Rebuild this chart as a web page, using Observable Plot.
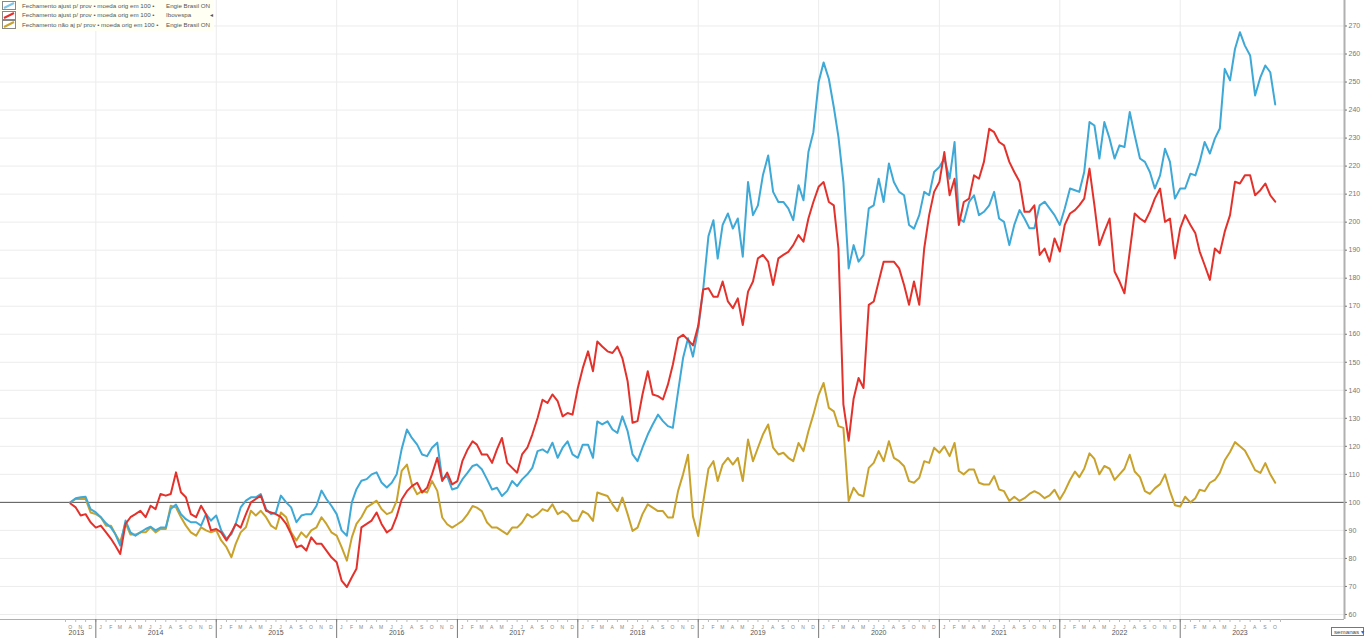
<!DOCTYPE html>
<html><head><meta charset="utf-8">
<script src="https://cdn.jsdelivr.net/npm/d3@7"></script>
<script src="https://cdn.jsdelivr.net/npm/@observablehq/plot@0.6"></script>
<style>
html,body{margin:0;padding:0;background:#fff;overflow:hidden;font-family:"Liberation Sans",Arial,sans-serif;}
#wrap{position:relative;width:1366px;overflow:hidden;}
#chart svg{display:block;}
#legend{position:absolute;left:0;top:0;width:214px;height:30px;background:#fffff4;font-size:6.2px;color:#555;padding-top:1px;}
.row{position:relative;height:9.7px;white-space:nowrap;}
.row svg{position:absolute;left:2px;top:0px;}
.row span{position:absolute;top:0.8px;}
#sem{position:absolute;left:1331px;width:33px;height:9px;border:1px solid #777;background:#fff;font-size:6.2px;color:#444;line-height:8px;padding-left:2px;box-sizing:border-box;white-space:nowrap;}
</style></head>
<body><div id="wrap"><div id="chart"></div>
<div id="legend"></div>
<div id="sem">semanas <span style="color:#2a6fc0">&#9662;</span></div>
</div>
<script>
// Series: Engie Brasil ON (adj.), Ibovespa (adj.), Engie Brasil ON (not adj.), base 100, semi-monthly samples
const blueValues = [
100,101.5,101.8,102,97.6,96.4,94.7,92.5,91,88.7,
84.6,93.5,89.3,88.1,89.3,90.5,91.3,90,91,91,
97.6,99.2,95.8,94,92.9,92.9,91.7,95.8,93.5,95.3,
90,87,88.7,92.3,98.2,100.6,101.8,101.8,103,97.6,
95.8,96.4,102.4,100,98.2,92.9,95.3,95.8,95.8,98.8,
104.2,101.2,98.8,95.8,90,88.1,100,104.7,107.7,108.3,
110,110.7,107.1,105.3,107,110,119,126,123,120.6,
117.1,116.5,119.5,121.3,108.2,109.4,104.6,105.2,108.2,110.6,
113,113.5,111.8,108.2,104.6,105.2,102.3,104.1,107.6,105.8,
108.2,110,112.3,118.3,118.9,117.7,121.3,115.9,119.5,121.8,
117.1,115.9,120.6,120.6,115.9,128.9,127.8,128.9,126,124.8,
130.7,125.4,117.1,114.7,119.5,124.2,127.8,131.3,129,127.2,
126.6,139.6,151.5,158.6,152,162,176,195,200.7,187,
199,203.1,197.7,201.3,187.7,214.3,202.5,206,216.7,223.8,
210.8,207.2,207.2,204.9,200.7,213.2,207.8,225,232.1,250,
257,251.1,241,230.4,214.4,183.5,191.8,185.9,188.2,204.9,
206,215.5,207.2,220.9,214.3,210.8,209.6,199,197.7,202.5,
210.8,209.6,217.9,219.7,222.7,215.5,228.6,201.3,200.1,207.2,
209.6,202.5,203.7,206,210.8,201.3,200.1,191.8,199,204.3,
201.3,197.8,197.8,206,207.3,204.9,202.5,199,204.9,212,
211.4,210.8,217.9,235.7,234.5,222.7,235.7,229.8,222.7,227.4,
226.8,239.3,231,222.7,221.5,217.9,212,216.7,226.2,221.5,
208.4,212,212,217.3,216.7,221.5,228.6,224.5,229.8,233.4,
254.7,250.6,261.8,267.8,263,259.5,245.2,251.7,255.9,253.5,
242];
const redValues = [
99.6,98.2,95.3,95.8,92.9,91,91.7,89.3,87,84.6,
81.6,92.3,94.7,95.8,97,94.7,98.8,97.6,103,102.4,
103,110.7,103.6,101.8,95.8,94.7,98.8,95.8,90,90.5,
89.3,86.4,89.3,92.3,91,95.8,100,101.2,102.4,97,
96.4,95.8,94.7,92.3,88.7,84,84.6,82.8,87.5,85.2,
85.2,82.8,80.4,78.6,72.1,69.8,73.3,76.3,91.1,92.3,
93.5,96.4,92.3,89.3,90.5,95,101,104,105.8,107,
103.5,105.2,110,115.9,107.6,110.6,106.4,107.6,114.7,118.9,
121.8,120.6,117.1,117.1,114.1,118.9,123,114.1,112.3,110.6,
117.1,119.5,124.2,130.1,136.6,135.5,138.5,136.1,130.7,131.9,
131.3,140.8,147.9,153.9,146.8,157.4,155.6,153.9,153.3,155.6,
151.5,143.2,128.4,129,138.5,146.8,138.5,137.9,136.7,142,
149.1,158.6,159.8,158,156,163,176,176.4,173.4,173.4,
178.8,171.7,169.3,172.8,163.3,175.2,178.8,187.1,188.3,185.9,
177.6,187.1,188.3,189.4,191.8,195.4,193,201.3,207.2,212.6,
214.3,207.2,206,190.6,135,122,137,144.4,140.8,170.5,
171.7,178.8,185.9,185.9,185.9,183.5,177.6,170.5,178.8,170.5,
190.6,202.5,210.8,214.3,225,209.6,215.5,199,207.2,208.4,
216.7,215.5,221.5,233.3,232.1,228.6,227.4,221.5,217.9,214.4,
203.7,203.7,206,188.3,190.6,185.9,194.2,189.5,199,203.1,
204.3,206,208.4,219.1,206,191.8,196.6,201.3,182.4,178.8,
174.6,189.5,203.1,201.3,200.1,203.7,208.4,212,200.1,201.3,
187.1,197.8,202.5,199,196,189.5,184.7,179.4,190.6,188.9,
196.6,202.5,214.4,213.8,216.7,216.7,209.6,211.4,213.8,209.6,
207.3];
const yellowValues = [
100,101.2,101.2,101.2,96.4,95.8,94.7,91.7,91.7,88.7,
85.8,92.6,88.5,88.5,89.3,89.3,91.1,89.3,90.5,90.5,
98.8,98.2,94.7,91.7,89.3,88.1,91.1,90,89.3,90,
86.4,84,80.4,85.2,89.3,91.1,97,95.3,97,94.7,
91.7,90.5,96.4,94.7,89.3,86.4,89.3,87.5,90,91.1,
94.7,92.3,89.3,88.1,84,79.2,87.5,92.3,94.7,98.2,
99.4,100.6,97.6,95.8,96.5,100.5,111.2,113.5,106.4,102.9,
104.1,103.5,107.6,104.1,94.6,92.2,91,92.2,93.4,95.8,
98.7,98.1,96.9,92.8,91,91,89.8,88.6,91,91,
92.8,95.8,94.6,95.8,97.6,96.9,99.3,95.8,96.9,95.8,
93.4,93.4,96.9,95.8,93.4,103.5,102.9,102.3,99.3,96.9,
101.7,95.8,89.8,91,95.8,99.3,98.1,96.9,96.9,94.6,
94.6,104.1,110,117,95,88,100,112,114.7,107.6,
113.5,115.9,113.5,115.9,107.6,122.4,114.7,119.5,124.2,127.8,
119.5,117.1,117.7,115.9,114.7,121.2,118.3,125.4,131.3,138.4,
142.6,133.7,132.5,127.2,126.6,100.5,105.2,102.8,102.2,112.3,
114.1,118.3,114.7,121.8,115.9,114.7,112.9,107.6,107,108.8,
114.7,114.1,119.5,117.7,120,116.5,121.2,111.2,110,111.7,
111.7,107,106.4,106.4,109.4,104.6,104,100.5,102,100.5,
101.5,103,104,103,101.5,102.5,104.5,101,104,108,
111,109,112,117.5,115.5,110,113,112,108,110,
112,117,111,109,104,103,105,106.5,110,104,
99,98.5,102,100,101.5,104.5,104,107,108,110.5,
115,118,121.5,120,118.5,115,111.5,110.5,114,110,
107];

const seriesNames = ["Engie Brasil ON (não aj)", "Engie Brasil ON", "Ibovespa"];
const seriesColors = ["#c9a22c", "#3ea8d6", "#e3322c"];
const yTicks = d3.range(60, 271, 10);
const years = d3.range(2014, 2024);
const labelYears = d3.range(2013, 2024);
const monthLetters = ["J","F","M","A","M","J","J","A","S","O","N","D"];

const legendRows = [
  ["Fechamento", "ajust p/ prov • moeda orig em 100 •", "Engie Brasil ON", "#7fc6e6"],
  ["Fechamento", "ajust p/ prov • moeda orig em 100 •", "Ibovespa", "#e3322c"],
  ["Fechamento", "não aj p/ prov • moeda orig em 100 •", "Engie Brasil ON", "#c9a22c"]
];

// dates: 16th and 1st of each month, Oct 2013 .. Oct 2023
const dates = d3.range(blueValues.length).map(k => k % 2 === 0
  ? new Date(Date.UTC(2013, 9 + k / 2, 16))
  : new Date(Date.UTC(2013, 9 + (k + 1) / 2, 1)));

const rows = [];
[yellowValues, blueValues, redValues].forEach((vals, i) => {
  vals.forEach((v, k) => rows.push({date: dates[k], value: v, series: seriesNames[i]}));
});

const H = 638;
document.getElementById("wrap").style.height = H + "px";
document.getElementById("sem").style.top = (H - 11) + "px";

const xMin = new Date(Date.UTC(2013, 2, 18)), xMax = new Date(Date.UTC(2024, 4, 13));
const yMin = 58.2, yMax = 279.1;
const yearStarts = years.map(y => new Date(Date.UTC(y, 0, 1)));
const yearLabelDates = labelYears.map(y => y === 2013 ? new Date(Date.UTC(2013, 10, 3)) : new Date(Date.UTC(y, 6, 1)));
const monthMids = d3.utcMonth.range(new Date(Date.UTC(2013, 9, 1)), new Date(Date.UTC(2023, 10, 1))).map(d => new Date(Date.UTC(d.getUTCFullYear(), d.getUTCMonth(), 15)));
const monthStarts = d3.utcMonth.range(new Date(Date.UTC(2013, 9, 1)), new Date(Date.UTC(2023, 10, 2)));

const chart = Plot.plot({
  width: 1366, height: H,
  marginTop: 0, marginBottom: 19, marginLeft: 0, marginRight: 22,
  x: {type: "utc", domain: [xMin, xMax]},
  y: {domain: [yMin, yMax]},
  color: {domain: seriesNames, range: seriesColors},
  style: {fontFamily: "Liberation Sans, Arial, sans-serif", background: "#fff"},
  marks: [
    Plot.ruleY(yTicks, {stroke: "#ececec"}),
    Plot.ruleX(yearStarts, {stroke: "#ececec"}),
    Plot.ruleY([100], {stroke: "#555", strokeWidth: 1}),
    Plot.lineY(rows, {x: "date", y: "value", z: "series", stroke: "series", strokeWidth: 2, curve: "linear"}),
    Plot.ruleX([xMax], {stroke: "#b0b0b0", strokeWidth: 2}),
    Plot.ruleY([yMin], {stroke: "#b0b0b0", strokeWidth: 1}),
    Plot.axisY({anchor: "right", ticks: yTicks, tickSize: 2, tickPadding: 2, fontSize: 7, color: "#777", label: null}),
    Plot.axisX({ticks: monthStarts, tickFormat: () => "", tickSize: 3, color: "#bbb", label: null}),
    Plot.axisX({ticks: monthMids, tickFormat: d => monthLetters[d.getUTCMonth()], tickSize: 0, tickPadding: 6, fontSize: 5, color: "#888", label: null}),
    Plot.axisX({ticks: yearStarts, tickFormat: () => "", tickSize: 19, color: "#777", label: null}),
    Plot.axisX({ticks: yearLabelDates, tickFormat: d => String(d.getUTCFullYear()), tickSize: 0, tickPadding: 11, fontSize: 7, color: "#555", label: null})
  ]
});
document.getElementById("chart").appendChild(chart);

const lg = document.getElementById("legend");
legendRows.forEach((r, i) => {
  const div = document.createElement("div");
  div.className = "row";
  div.innerHTML = `<svg width="14" height="9"><rect x="0.5" y="0.5" width="13" height="8" fill="#fff" stroke="#888"/><line x1="2" y1="7" x2="12" y2="2" stroke="${r[3]}" stroke-width="2"/></svg>` +
    `<span style="left:22px">${r[0]}</span><span style="left:58px">${r[1]}</span><span style="left:166px">${r[2]}</span>` +
    (i === 1 ? `<span style="left:210px">◂</span>` : "");
  lg.appendChild(div);
});
</script>
</body></html>
